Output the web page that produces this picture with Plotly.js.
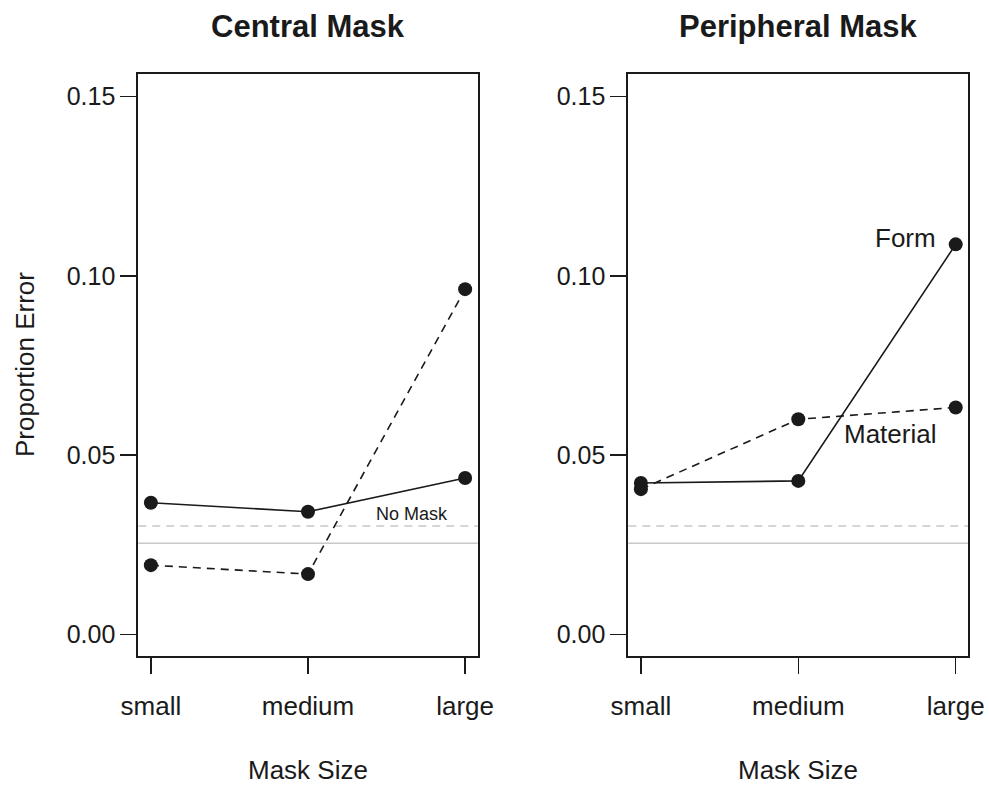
<!DOCTYPE html>
<html>
<head>
<meta charset="utf-8">
<script src="https://cdn.plot.ly/plotly-3.0.1.min.js"></script>
<style>html,body{margin:0;padding:0;background:#fff;}#chart{width:989px;height:785px;}</style>
</head>
<body>
<div id="chart"></div>
<script>
const maskSizes = ["small", "medium", "large"];
const yTickVals = [0, 0.05, 0.10, 0.15];
const yTickText = ["0.00", "0.05", "0.10", "0.15"];

const centralForm = [0.0367, 0.0342, 0.0436];
const centralMaterial = [0.0193, 0.0168, 0.0963];
const peripheralForm = [0.0422, 0.0428, 0.1088];
const peripheralMaterial = [0.0405, 0.0600, 0.0633];

const noMaskForm = 0.0254;
const noMaskMaterial = 0.0302;

const panelTitles = ["Central Mask", "Peripheral Mask"];

const FONT = "Liberation Sans, Arial, Helvetica, sans-serif";
const INK = "#1a1a1a";

function series(x, y, dash, xa, ya) {
  return {
    type: "scatter", mode: "lines+markers", x: x, y: y,
    xaxis: xa, yaxis: ya,
    line: {color: INK, width: 1.6, dash: dash},
    marker: {color: INK, size: 14},
    showlegend: false, hoverinfo: "skip"
  };
}

const data = [
  series(maskSizes, centralForm, "solid", "x", "y"),
  series(maskSizes, centralMaterial, "8px,6px", "x", "y"),
  series(maskSizes, peripheralForm, "solid", "x2", "y2"),
  series(maskSizes, peripheralMaterial, "8px,6px", "x2", "y2")
];

const W = 989, H = 785;
const yDom = [1 - 656 / H, 1 - 74.3 / H];

function xAxis(domain, anchor) {
  return {
    domain: domain, anchor: anchor, type: "category",
    categoryorder: "array", categoryarray: maskSizes,
    range: [-0.08, 2.08],
    showline: true, mirror: true, linecolor: INK, linewidth: 2,
    ticks: "outside", ticklen: 16, tickwidth: 1.5, tickcolor: INK,
    ticklabelstandoff: 10,
    showgrid: false, zeroline: false,
    tickfont: {family: FONT, size: 26, color: INK},
    fixedrange: true
  };
}
function yAxis(anchor) {
  return {
    domain: yDom, anchor: anchor,
    range: [-0.00605, 0.15625],
    tickvals: yTickVals, ticktext: yTickText,
    showline: true, mirror: true, linecolor: INK, linewidth: 2,
    ticks: "outside", ticklen: 16, tickwidth: 1.5, tickcolor: INK,
    showgrid: false, zeroline: false,
    tickfont: {family: FONT, size: 25, color: INK},
    fixedrange: true
  };
}

function hline(xref, yref, yv, dash, color) {
  return {
    type: "line", xref: xref + " domain", yref: yref,
    x0: 0, x1: 1, y0: yv, y1: yv,
    line: {color: color, width: 1.5, dash: dash},
    layer: "below"
  };
}

const layout = {
  width: W, height: H,
  margin: {l: 0, r: 0, t: 0, b: 0},
  paper_bgcolor: "#fff", plot_bgcolor: "#fff",
  showlegend: false,
  font: {family: FONT, color: INK},
  xaxis: xAxis([138.3 / W, 477.7 / W], "y"),
  yaxis: yAxis("x"),
  xaxis2: xAxis([628.3 / W, 968.3 / W], "y2"),
  yaxis2: yAxis("x2"),
  shapes: [
    hline("x", "y", noMaskMaterial, "8px,6px", "#c8c8c8"),
    hline("x", "y", noMaskForm, "solid", "#c8c8c8"),
    hline("x2", "y2", noMaskMaterial, "8px,6px", "#c8c8c8"),
    hline("x2", "y2", noMaskForm, "solid", "#c8c8c8")
  ],
  annotations: [
    {text: "<b>" + panelTitles[0] + "</b>", xref: "paper", yref: "paper",
     x: 308 / W, y: 1 - 27 / H, xanchor: "center", yanchor: "middle",
     showarrow: false, font: {family: FONT, size: 31, color: INK}},
    {text: "<b>" + panelTitles[1] + "</b>", xref: "paper", yref: "paper",
     x: 798 / W, y: 1 - 27 / H, xanchor: "center", yanchor: "middle",
     showarrow: false, font: {family: FONT, size: 31, color: INK}},
    {text: "Mask Size", xref: "paper", yref: "paper",
     x: 308 / W, y: 1 - 770 / H, xanchor: "center", yanchor: "middle",
     showarrow: false, font: {family: FONT, size: 26, color: INK}},
    {text: "Mask Size", xref: "paper", yref: "paper",
     x: 798 / W, y: 1 - 770 / H, xanchor: "center", yanchor: "middle",
     showarrow: false, font: {family: FONT, size: 26, color: INK}},
    {text: "Proportion Error", xref: "paper", yref: "paper",
     x: 25 / W, y: 1 - 365 / H, xanchor: "center", yanchor: "middle",
     textangle: -90, showarrow: false, font: {family: FONT, size: 26, color: INK}},
    {text: "No Mask", xref: "x", yref: "y", x: 1.665, y: 0.0336,
     xanchor: "center", yanchor: "middle", showarrow: false,
     font: {family: FONT, size: 18, color: INK}},
    {text: "Form", xref: "x2", yref: "y2", x: 1.888, y: 0.1107,
     xanchor: "right", yanchor: "middle", showarrow: false,
     font: {family: FONT, size: 26, color: INK}},
    {text: "Material", xref: "x2", yref: "y2", x: 1.582, y: 0.0559,
     xanchor: "center", yanchor: "middle", showarrow: false,
     font: {family: FONT, size: 26, color: INK}}
  ]
};

Plotly.newPlot("chart", data, layout, {displayModeBar: false, staticPlot: true});
</script>
</body>
</html>
